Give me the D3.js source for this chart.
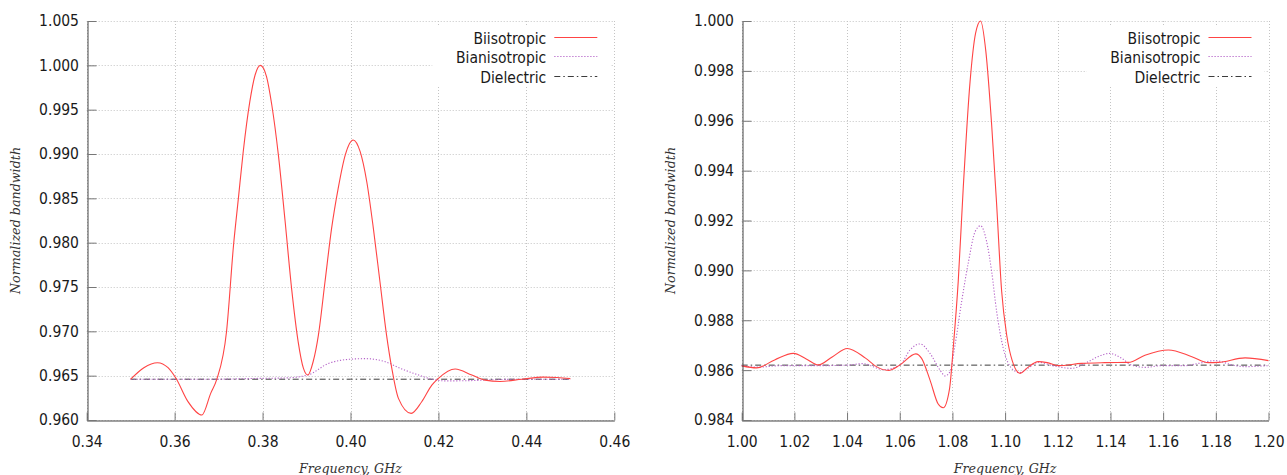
<!DOCTYPE html>
<html>
<head>
<meta charset="utf-8">
<script src="https://cdn.jsdelivr.net/npm/d3@7"></script>
<style>
  body { margin: 0; background: #fff; }
  svg { display: block; }
  .tick text { font-family: "DejaVu Sans Condensed", "DejaVu Sans", sans-serif; font-size: 15.5px; fill: #1a1a1a; }
  .legend text { font-family: "DejaVu Sans Condensed", "DejaVu Sans", sans-serif; font-size: 15.5px; fill: #1a1a1a; }
  .title { font-family: "DejaVu Serif", serif; font-style: italic; font-size: 12.7px; fill: #333; }
</style>
</head>
<body>
<div id="chart"></div>
<script>
// values: [frequency GHz, normalized bandwidth]
var leftBiiso = [
  [0.350, 0.9646], [0.353, 0.9659], [0.3561, 0.96646], [0.3585, 0.9659], [0.3603, 0.9647],
  [0.3630, 0.9621], [0.3662, 0.96056], [0.3682, 0.9630], [0.3696, 0.9646], [0.3718, 0.96995],
  [0.3734, 0.97973], [0.3745, 0.9850], [0.3756, 0.99026], [0.3771, 0.9959], [0.3783, 0.99891],
  [0.3795, 1.0000], [0.3809, 0.99872], [0.3821, 0.99553], [0.3836, 0.98988], [0.3851, 0.98255],
  [0.3866, 0.97485], [0.3881, 0.96882], [0.3893, 0.96582], [0.3903, 0.96507], [0.3915, 0.96657],
  [0.3927, 0.96958], [0.3942, 0.97559], [0.3957, 0.98161], [0.3972, 0.98613], [0.3988, 0.98988],
  [0.4006, 0.99158], [0.4022, 0.99026], [0.4037, 0.98687], [0.4052, 0.98161], [0.4067, 0.97559],
  [0.4082, 0.96958], [0.4094, 0.96582], [0.4109, 0.96244], [0.4138, 0.96075], [0.4162, 0.96206],
  [0.4185, 0.96394], [0.4200, 0.9647], [0.4238, 0.96575], [0.4276, 0.96507], [0.4306, 0.9645],
  [0.4340, 0.96435], [0.4390, 0.9646], [0.4438, 0.96483], [0.4470, 0.9648], [0.4500, 0.96467]
];
var leftBianiso = [
  [0.350, 0.9646], [0.360, 0.9646], [0.370, 0.9646], [0.375, 0.96465], [0.380, 0.9647],
  [0.3851, 0.96474], [0.3903, 0.96507], [0.3950, 0.96638], [0.4003, 0.96687], [0.4034, 0.96692],
  [0.4079, 0.96657], [0.4117, 0.96575], [0.4155, 0.96507], [0.4185, 0.9646], [0.4216, 0.96441],
  [0.4262, 0.96443], [0.4307, 0.9645], [0.435, 0.96458], [0.440, 0.9646], [0.445, 0.9646],
  [0.450, 0.9646]
];
var leftDiel = [[0.350, 0.9646], [0.400, 0.9646], [0.450, 0.9646]];

var rightBiiso = [
  [1.000, 0.98617], [1.0057, 0.98609], [1.0125, 0.98641], [1.0196, 0.98667], [1.0245, 0.98645],
  [1.0291, 0.98621], [1.0345, 0.98654], [1.0401, 0.98687], [1.0470, 0.98648], [1.0515, 0.98612],
  [1.0557, 0.98599], [1.0601, 0.98621], [1.0661, 0.98665], [1.0683, 0.98647], [1.0715, 0.9856],
  [1.0746, 0.98464], [1.0765, 0.98449], [1.0789, 0.98525], [1.0803, 0.98688], [1.0822, 0.98955],
  [1.0841, 0.99329], [1.0867, 0.99757], [1.0888, 0.99951], [1.0907, 1.0000], [1.0927, 0.99877],
  [1.0949, 0.99583], [1.0968, 0.99262], [1.0987, 0.98915], [1.1006, 0.98741], [1.1027, 0.98638],
  [1.1057, 0.98587], [1.1082, 0.98607], [1.1126, 0.98634], [1.1160, 0.9863], [1.1202, 0.98618],
  [1.1291, 0.98627], [1.1379, 0.98630], [1.1468, 0.98631], [1.1531, 0.9866], [1.1620, 0.98681],
  [1.1709, 0.98654], [1.1771, 0.9863], [1.1809, 0.98631], [1.1911, 0.98649], [1.2000, 0.98638]
];
var rightBianiso = [
  [1.000, 0.98618], [1.006, 0.98612], [1.015, 0.98618], [1.030, 0.98618], [1.040, 0.9862],
  [1.046, 0.98626], [1.0538, 0.98602], [1.0601, 0.9862], [1.0639, 0.98681], [1.0677, 0.98705],
  [1.0715, 0.98667], [1.0753, 0.986], [1.0772, 0.98577], [1.0791, 0.98594], [1.0810, 0.98701],
  [1.0835, 0.98875], [1.0861, 0.99035], [1.0886, 0.99155], [1.0907, 0.99179], [1.0930, 0.99115],
  [1.0949, 0.98995], [1.0968, 0.98834], [1.0993, 0.98688], [1.1025, 0.98607], [1.1055, 0.98590],
  [1.1090, 0.98610], [1.1126, 0.98632], [1.1180, 0.98618], [1.1253, 0.98607], [1.1316, 0.98634],
  [1.1354, 0.98655], [1.1398, 0.98667], [1.1443, 0.98647], [1.1481, 0.9862], [1.1531, 0.98611],
  [1.1595, 0.98618], [1.1683, 0.98618], [1.1734, 0.98627], [1.1797, 0.98638], [1.1873, 0.98618],
  [1.1911, 0.98614], [1.2000, 0.98618]
];
var rightDiel = [[1.000, 0.9862], [1.100, 0.9862], [1.200, 0.9862]];

var leftXTicks = [0.34, 0.36, 0.38, 0.40, 0.42, 0.44, 0.46];
var leftYTicks = [0.960, 0.965, 0.970, 0.975, 0.980, 0.985, 0.990, 0.995, 1.000, 1.005];
var rightXTicks = [1.00, 1.02, 1.04, 1.06, 1.08, 1.10, 1.12, 1.14, 1.16, 1.18, 1.20];
var rightYTicks = [0.984, 0.986, 0.988, 0.990, 0.992, 0.994, 0.996, 0.998, 1.000];

var seriesNames = ["Biisotropic", "Bianisotropic", "Dielectric"];
var xTitle = "Frequency, GHz";
var yTitle = "Normalized bandwidth";

var W = 1287, H = 475;
var plotTop = 21, plotBottom = 420;

var styles = [
  { stroke: "#ff4444", dash: null, width: 1.1 },
  { stroke: "#b462c8", dash: "1.2,1.8", width: 1.1 },
  { stroke: "#3c3c3c", dash: "6,3,1.5,3", width: 1 }
];

var svg = d3.select("#chart").append("svg")
  .attr("width", W)
  .attr("height", H);

function drawPanel(left, right, xTicks, yTicks, yFmt, data) {
  var x = d3.scaleLinear()
    .domain([xTicks[0], xTicks[xTicks.length - 1]])
    .range([left, right]);
  var y = d3.scaleLinear()
    .domain([yTicks[0], yTicks[yTicks.length - 1]])
    .range([plotBottom, plotTop]);

  var g = svg.append("g");

  // dotted grid
  g.selectAll(".hgrid").data(yTicks).enter().append("line")
    .attr("x1", left).attr("x2", right)
    .attr("y1", function(d) { return Math.round(y(d)) + 0.5; })
    .attr("y2", function(d) { return Math.round(y(d)) + 0.5; })
    .attr("stroke", "#c4c4c4").attr("stroke-dasharray", "1,2");
  g.selectAll(".vgrid").data(xTicks).enter().append("line")
    .attr("y1", plotTop).attr("y2", plotBottom)
    .attr("x1", function(d) { return Math.round(x(d)) + 0.5; })
    .attr("x2", function(d) { return Math.round(x(d)) + 0.5; })
    .attr("stroke", "#c4c4c4").attr("stroke-dasharray", "1,2");

  // legend background hides the grid behind the key
  g.append("rect")
    .attr("x", right - 182).attr("y", 27)
    .attr("width", 178).attr("height", 58)
    .attr("fill", "#fff");

  var line = d3.line()
    .x(function(d) { return x(d[0]); })
    .y(function(d) { return y(d[1]); })
    .curve(d3.curveMonotoneX);

  // draw dielectric first so the others sit on top
  [2, 1, 0].forEach(function(i) {
    g.append("path")
      .datum(data[i])
      .attr("d", line)
      .attr("fill", "none")
      .attr("stroke", styles[i].stroke)
      .attr("stroke-width", styles[i].width)
      .attr("stroke-dasharray", styles[i].dash);
  });

  var xAxis = g.append("g")
    .attr("transform", "translate(0," + (plotBottom + 0.5) + ")")
    .call(d3.axisBottom(x).tickValues(xTicks).tickFormat(d3.format(".2f"))
      .tickSizeInner(-8).tickSizeOuter(0).tickPadding(15));
  var yAxis = g.append("g")
    .attr("transform", "translate(" + (Math.round(left) + 0.5) + ",0)")
    .call(d3.axisLeft(y).tickValues(yTicks).tickFormat(d3.format(yFmt))
      .tickSizeInner(-9).tickSizeOuter(0).tickPadding(8.5));

  [xAxis, yAxis].forEach(function(a) {
    a.select(".domain").attr("stroke", "#444");
    a.selectAll(".tick line").attr("stroke", "#777");
  });
  xAxis.selectAll(".tick text").attr("dy", null).attr("y", 26);

  // key
  var leg = g.append("g").attr("class", "legend");
  seriesNames.forEach(function(name, i) {
    var by = 44 + i * 19.4;
    var ly = Math.round(by - 7) + 0.5;
    leg.append("text")
      .attr("x", right - 68).attr("y", by)
      .attr("text-anchor", "end")
      .text(name);
    leg.append("line")
      .attr("x1", right - 60).attr("x2", right - 17)
      .attr("y1", ly).attr("y2", ly)
      .attr("stroke", styles[i].stroke)
      .attr("stroke-width", styles[i].width)
      .attr("stroke-dasharray", styles[i].dash);
  });

  // axis titles
  g.append("text")
    .attr("class", "title")
    .attr("x", (left + right) / 2).attr("y", 472.5)
    .attr("text-anchor", "middle")
    .text(xTitle);
  g.append("text")
    .attr("class", "title")
    .attr("transform", "translate(" + (left - 67) + "," + ((plotTop + plotBottom) / 2) + ") rotate(-90)")
    .attr("text-anchor", "middle")
    .text(yTitle);
}

drawPanel(86.7, 614.3, leftXTicks, leftYTicks, ".3f", [leftBiiso, leftBianiso, leftDiel]);
drawPanel(741.7, 1268.5, rightXTicks, rightYTicks, ".3f", [rightBiiso, rightBianiso, rightDiel]);
</script>
</body>
</html>
